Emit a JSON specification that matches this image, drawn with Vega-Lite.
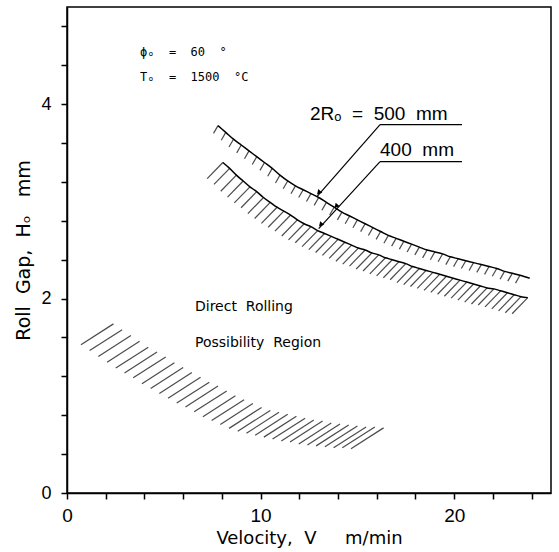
{
  "$schema": "https://vega.github.io/schema/vega-lite/v6.json",
  "width": 484,
  "height": 486,
  "autosize": "none",
  "padding": {"left": 67, "top": 7, "right": 8, "bottom": 59},
  "background": "white",
  "config": {
    "view": {"stroke": "black", "strokeWidth": 1.5},
    "axis": {
      "domainColor": "black", "domainWidth": 1.5, "tickColor": "black", "tickWidth": 1.5, "tickSize": 6,
      "grid": false, "labelFont": "Liberation Sans", "labelFontSize": 19, "labelColor": "black",
      "titleFont": "DejaVu Sans", "titleFontSize": 18, "titleFontWeight": "normal", "titleColor": "black",
      "labelFlush": false, "labelOverlap": false
    }
  },
  "datasets": {
    "c500": [
      {"x": 7.8, "y": 3.78}, {"x": 8.2, "y": 3.71}, {"x": 8.6, "y": 3.64}, {"x": 9.0, "y": 3.58}, {"x": 9.4, "y": 3.52},
      {"x": 9.8, "y": 3.46}, {"x": 10.2, "y": 3.40}, {"x": 10.6, "y": 3.34}, {"x": 11.0, "y": 3.27}, {"x": 11.4, "y": 3.21},
      {"x": 11.8, "y": 3.16}, {"x": 12.2, "y": 3.12}, {"x": 12.6, "y": 3.08}, {"x": 13.0, "y": 3.04}, {"x": 13.4, "y": 2.99},
      {"x": 13.8, "y": 2.94}, {"x": 14.2, "y": 2.89}, {"x": 14.6, "y": 2.85}, {"x": 15.0, "y": 2.81}, {"x": 15.4, "y": 2.77},
      {"x": 15.8, "y": 2.73}, {"x": 16.2, "y": 2.69}, {"x": 16.6, "y": 2.65}, {"x": 17.0, "y": 2.62}, {"x": 17.4, "y": 2.59},
      {"x": 17.8, "y": 2.56}, {"x": 18.2, "y": 2.53}, {"x": 18.6, "y": 2.50}, {"x": 19.0, "y": 2.48}, {"x": 19.4, "y": 2.46},
      {"x": 19.8, "y": 2.43}, {"x": 20.2, "y": 2.41}, {"x": 20.6, "y": 2.39}, {"x": 21.0, "y": 2.37}, {"x": 21.4, "y": 2.35},
      {"x": 21.8, "y": 2.33}, {"x": 22.2, "y": 2.31}, {"x": 22.6, "y": 2.28}, {"x": 23.0, "y": 2.26}, {"x": 23.4, "y": 2.24},
      {"x": 23.9, "y": 2.21}
    ],
    "c400": [
      {"x": 8.05, "y": 3.40}, {"x": 8.40, "y": 3.34}, {"x": 8.75, "y": 3.27}, {"x": 9.10, "y": 3.21}, {"x": 9.45, "y": 3.15},
      {"x": 9.80, "y": 3.10}, {"x": 10.15, "y": 3.04}, {"x": 10.50, "y": 2.99}, {"x": 10.85, "y": 2.94}, {"x": 11.20, "y": 2.90},
      {"x": 11.55, "y": 2.86}, {"x": 11.90, "y": 2.81}, {"x": 12.25, "y": 2.77}, {"x": 12.60, "y": 2.74}, {"x": 12.95, "y": 2.70},
      {"x": 13.30, "y": 2.67}, {"x": 13.65, "y": 2.64}, {"x": 14.00, "y": 2.61}, {"x": 14.35, "y": 2.58}, {"x": 14.70, "y": 2.55},
      {"x": 15.05, "y": 2.52}, {"x": 15.40, "y": 2.50}, {"x": 15.75, "y": 2.47}, {"x": 16.10, "y": 2.45}, {"x": 16.45, "y": 2.42},
      {"x": 16.80, "y": 2.40}, {"x": 17.15, "y": 2.38}, {"x": 17.50, "y": 2.36}, {"x": 17.85, "y": 2.33}, {"x": 18.20, "y": 2.31},
      {"x": 18.55, "y": 2.29}, {"x": 18.90, "y": 2.27}, {"x": 19.25, "y": 2.25}, {"x": 19.60, "y": 2.23}, {"x": 19.95, "y": 2.21},
      {"x": 20.30, "y": 2.19}, {"x": 20.65, "y": 2.17}, {"x": 21.00, "y": 2.15}, {"x": 21.35, "y": 2.13}, {"x": 21.70, "y": 2.11},
      {"x": 22.05, "y": 2.10}, {"x": 22.40, "y": 2.08}, {"x": 22.75, "y": 2.06}, {"x": 23.10, "y": 2.04}, {"x": 23.45, "y": 2.02},
      {"x": 23.80, "y": 2.01}
    ],
    "band": [
      {"x": 2.4, "y": 1.74}, {"x": 2.85, "y": 1.68}, {"x": 3.3, "y": 1.62}, {"x": 3.75, "y": 1.56}, {"x": 4.2, "y": 1.50},
      {"x": 4.65, "y": 1.45}, {"x": 5.1, "y": 1.40}, {"x": 5.55, "y": 1.34}, {"x": 6.0, "y": 1.29}, {"x": 6.45, "y": 1.24},
      {"x": 6.9, "y": 1.19}, {"x": 7.35, "y": 1.14}, {"x": 7.8, "y": 1.10}, {"x": 8.25, "y": 1.05}, {"x": 8.7, "y": 1.00},
      {"x": 9.15, "y": 0.96}, {"x": 9.6, "y": 0.92}, {"x": 10.05, "y": 0.88}, {"x": 10.5, "y": 0.85}, {"x": 10.95, "y": 0.83},
      {"x": 11.4, "y": 0.81}, {"x": 11.85, "y": 0.79}, {"x": 12.3, "y": 0.77}, {"x": 12.75, "y": 0.75}, {"x": 13.2, "y": 0.74},
      {"x": 13.65, "y": 0.72}, {"x": 14.1, "y": 0.71}, {"x": 14.55, "y": 0.70}, {"x": 15.0, "y": 0.69}, {"x": 15.45, "y": 0.68},
      {"x": 15.9, "y": 0.68}, {"x": 16.35, "y": 0.67}
    ],
    "params": [
      {"x": 3.77, "y": 4.54, "text": "ϕₒ\u00a0\u00a0=\u00a0\u00a060\u00a0\u00a0°"},
      {"x": 3.77, "y": 4.28, "text": "Tₒ\u00a0\u00a0=\u00a0\u00a01500\u00a0\u00a0°C"}
    ],
    "region": [
      {"x": 6.61, "y": 1.91, "text": "Direct\u00a0\u00a0Rolling"},
      {"x": 6.61, "y": 1.54, "text": "Possibility\u00a0\u00a0Region"}
    ],
    "dia": [
      {"x": 12.55, "y": 3.90, "text": "2Rₒ\u00a0\u00a0=\u00a0\u00a0500\u00a0\u00a0mm"},
      {"x": 16.17, "y": 3.53, "text": "400\u00a0\u00a0mm"}
    ],
    "leaders": [
      {"x": 16.17, "y": 3.79, "x2": 20.4, "y2": 3.79},
      {"x": 16.17, "y": 3.41, "x2": 20.4, "y2": 3.41},
      {"x": 16.17, "y": 3.79, "x2": 12.91, "y2": 3.05},
      {"x": 16.17, "y": 3.41, "x2": 13.0, "y2": 2.72}
    ],
    "arrows": [
      {"x": 13.0, "y": 3.09},
      {"x": 13.1, "y": 2.76},
      {"x": 13.9, "y": 2.95}
    ]
  },
  "layer": [
    {
      "data": {"name": "c500"},
      "mark": {"type": "line", "color": "black", "strokeWidth": 1.5, "interpolate": "monotone"},
      "encoding": {
        "x": {"field": "x", "type": "quantitative", "scale": {"domain": [0, 25], "nice": false},
          "axis": {"title": "Velocity,\u00a0\u00a0V\u00a0\u00a0\u00a0\u00a0\u00a0m/min", "values": [0,1,2,3,4,5,6,7,8,9,10,11,12,13,14,15,16,17,18,19,20,21,22,23,24,25],
            "labelExpr": "datum.value % 10 === 0 ? format(datum.value, 'd') : ''", "labelPadding": 7, "titlePadding": 4}},
        "y": {"field": "y", "type": "quantitative", "scale": {"domain": [0, 5], "nice": false},
          "axis": {"title": "Roll\u00a0\u00a0Gap,\u00a0\u00a0Hₒ\u00a0\u00a0\u00a0mm", "titleFontSize": 19, "labelFontSize": 18, "values": [0,0.2,0.4,0.6,0.8,1,1.2,1.4,1.6,1.8,2,2.2,2.4,2.6,2.8,3,3.2,3.4,3.6,3.8,4,4.2,4.4,4.6,4.8,5],
            "labelExpr": "datum.value === 0 || datum.value === 2 || datum.value === 4 ? format(datum.value, 'd') : ''", "labelPadding": 10, "titlePadding": 7}}
      }
    },
    {
      "data": {"name": "c500"},
      "transform": [{"filter": "datum.x < 23.5"}],
      "mark": {"type": "point", "shape": "M0,0L-0.5,0.87", "size": 324, "filled": false, "stroke": "black", "strokeWidth": 1.2},
      "encoding": {"x": {"field": "x", "type": "quantitative"}, "y": {"field": "y", "type": "quantitative"}}
    },
    {
      "data": {"name": "c400"},
      "mark": {"type": "line", "color": "black", "strokeWidth": 1.5, "interpolate": "monotone"},
      "encoding": {"x": {"field": "x", "type": "quantitative"}, "y": {"field": "y", "type": "quantitative"}}
    },
    {
      "data": {"name": "c400"},
      "mark": {"type": "point", "shape": "M0,0L-0.7,0.72", "size": 2000, "filled": false, "stroke": "black", "strokeWidth": 1.2},
      "encoding": {"x": {"field": "x", "type": "quantitative"}, "y": {"field": "y", "type": "quantitative"}}
    },
    {
      "data": {"name": "band"},
      "mark": {"type": "point", "shape": "M0,0L-0.84,0.54", "size": 6000, "filled": false, "stroke": "black", "strokeWidth": 1.2},
      "encoding": {"x": {"field": "x", "type": "quantitative"}, "y": {"field": "y", "type": "quantitative"}}
    },
    {
      "data": {"name": "leaders"},
      "mark": {"type": "rule", "color": "black", "strokeWidth": 1.2},
      "encoding": {"x": {"field": "x", "type": "quantitative"}, "y": {"field": "y", "type": "quantitative"},
        "x2": {"field": "x2"}, "y2": {"field": "y2"}}
    },
    {
      "data": {"name": "arrows"},
      "mark": {"type": "point", "shape": "triangle-up", "size": 30, "filled": true, "color": "black", "opacity": 1, "angle": 222},
      "encoding": {"x": {"field": "x", "type": "quantitative"}, "y": {"field": "y", "type": "quantitative"}}
    },
    {
      "data": {"name": "params"},
      "mark": {"type": "text", "align": "left", "baseline": "middle", "font": "DejaVu Sans Mono", "fontSize": 12, "color": "black"},
      "encoding": {"x": {"field": "x", "type": "quantitative"}, "y": {"field": "y", "type": "quantitative"}, "text": {"field": "text"}}
    },
    {
      "data": {"name": "region"},
      "mark": {"type": "text", "align": "left", "baseline": "middle", "font": "DejaVu Sans", "fontSize": 14, "color": "black"},
      "encoding": {"x": {"field": "x", "type": "quantitative"}, "y": {"field": "y", "type": "quantitative"}, "text": {"field": "text"}}
    },
    {
      "data": {"name": "dia"},
      "mark": {"type": "text", "align": "left", "baseline": "middle", "font": "Liberation Sans", "fontSize": 19, "color": "black"},
      "encoding": {"x": {"field": "x", "type": "quantitative"}, "y": {"field": "y", "type": "quantitative"}, "text": {"field": "text"}}
    }
  ]
}
